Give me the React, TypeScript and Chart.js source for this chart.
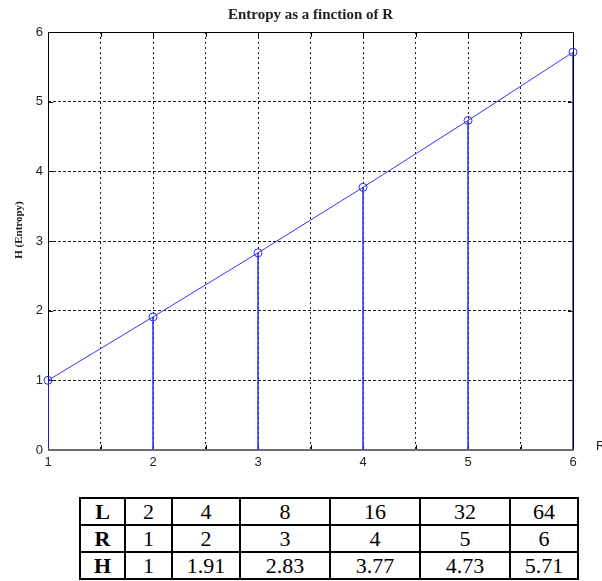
import React, { useEffect, useRef } from 'react';
import { Chart, registerables } from 'chart.js';

Chart.register(...registerables);

// Source values: alphabet size L, bits R = log2(L), measured entropy H
const lValues = [2, 4, 8, 16, 32, 64];
const rValues = [1, 2, 3, 4, 5, 6];
const hValues = [1, 1.91, 2.83, 3.77, 4.73, 5.71];

// Axis ticks
const xTickLabels = [1, 2, 3, 4, 5, 6];
const yTickLabels = [0, 1, 2, 3, 4, 5, 6];

const chartTitle = 'Entropy as a finction of R';
const yAxisTitle = 'H (Entropy)';
const xAxisTitle = 'R';

const columnWidths = [45, 47, 68, 90, 90, 90, 68];

const points = rValues.map((r, i) => ({ x: r, y: hValues[i] }));

// Draws the plot frame, inward tick marks and the title/axis captions.
const frameAndCaptions = {
  id: 'frameAndCaptions',
  beforeDatasetsDraw(chart: any) {
    const { ctx, chartArea: a, scales } = chart;
    ctx.save();
    ctx.strokeStyle = '#000';
    ctx.lineWidth = 1;
    ctx.beginPath();
    ctx.moveTo(a.left + 0.5, a.bottom);
    ctx.lineTo(a.left + 0.5, a.top + 0.5);
    ctx.lineTo(a.right + 0.5, a.top + 0.5);
    ctx.lineTo(a.right + 0.5, a.bottom);
    ctx.stroke();
    // inward tick marks
    ctx.beginPath();
    scales.x.ticks.forEach((t: any) => {
      const px = Math.round(scales.x.getPixelForValue(t.value)) + 0.5;
      ctx.moveTo(px, a.bottom);
      ctx.lineTo(px, a.bottom - 5);
      ctx.moveTo(px, a.top);
      ctx.lineTo(px, a.top + 5);
    });
    scales.y.ticks.forEach((t: any) => {
      const py = Math.round(scales.y.getPixelForValue(t.value)) + 0.5;
      ctx.moveTo(a.left, py);
      ctx.lineTo(a.left + 5, py);
      ctx.moveTo(a.right, py);
      ctx.lineTo(a.right - 5, py);
    });
    ctx.stroke();
    ctx.strokeStyle = '#6e6e6e';
    ctx.lineWidth = 2;
    ctx.beginPath();
    ctx.moveTo(a.left, a.bottom);
    ctx.lineTo(a.right + 1, a.bottom);
    ctx.stroke();
    ctx.restore();
  },
  afterDraw(chart: any) {
    const { ctx, chartArea: a } = chart;
    ctx.save();
    ctx.fillStyle = '#222';
    ctx.font = 'bold 15px "Liberation Serif"';
    ctx.textAlign = 'center';
    ctx.textBaseline = 'middle';
    ctx.fillText(chartTitle, (a.left + a.right) / 2, 15);

    ctx.font = 'bold 11px "Liberation Serif"';
    ctx.save();
    ctx.translate(19, 230);
    ctx.rotate(-Math.PI / 2);
    ctx.fillText(yAxisTitle, 0, 0);
    ctx.restore();

    ctx.font = '13px "Liberation Sans"';
    ctx.textAlign = 'left';
    ctx.fillText(xAxisTitle, a.right + 23, a.bottom - 4);
    ctx.restore();
  },
};

function EntropyChart() {
  const canvasRef = useRef<HTMLCanvasElement | null>(null);

  useEffect(() => {
    const canvas = canvasRef.current;
    if (!canvas) return;
    const tickFont = { family: '"Liberation Sans"', size: 13 };
    const chart = new Chart(canvas, {
      type: 'line',
      data: {
        datasets: [
          {
            type: 'line',
            data: points,
            borderColor: '#3535ff',
            borderWidth: 1,
            pointRadius: 4,
            pointHoverRadius: 4,
            pointBorderColor: '#2a2aff',
            pointBorderWidth: 1,
            pointBackgroundColor: 'rgba(0,0,0,0)',
            tension: 0,
            clip: false,
          } as any,
          {
            type: 'bar',
            data: points,
            backgroundColor: '#2a2aff',
            borderWidth: 0,
            barThickness: 1.5,
            inflateAmount: 0,
          } as any,
        ],
      },
      options: {
        responsive: false,
        animation: false,
        events: [],
        layout: { padding: { top: 32, right: 29, left: 0, bottom: 0 } },
        plugins: {
          legend: { display: false },
          tooltip: { enabled: false },
          title: { display: false },
        },
        scales: {
          x: {
            type: 'linear',
            min: 1,
            max: 6,
            offset: false,
            ticks: {
              stepSize: 0.5,
              autoSkip: false,
              maxRotation: 0,
              padding: 5,
              color: '#222',
              font: tickFont,
              callback: (v: any) => (xTickLabels.includes(Number(v)) ? String(v) : ''),
            },
            grid: { color: '#1a1a1a', lineWidth: 1, drawTicks: false, offset: false },
            border: { display: false, dash: [2, 3] },
            afterFit: (s: any) => {
              s.height = 30;
            },
          },
          y: {
            type: 'linear',
            min: 0,
            max: 6,
            ticks: {
              stepSize: 1,
              padding: 5,
              color: '#222',
              font: tickFont,
              callback: (v: any) => (yTickLabels.includes(Number(v)) ? String(v) : ''),
            },
            grid: { color: '#1a1a1a', lineWidth: 1, drawTicks: false },
            border: { display: false, dash: [3, 2] },
            afterFit: (s: any) => {
              s.width = 48;
            },
          },
        },
      } as any,
      plugins: [frameAndCaptions],
    });
    return () => chart.destroy();
  }, []);

  return <canvas ref={canvasRef} width={602} height={480} style={{ display: 'block' }} />;
}

function ValuesTable() {
  const rows: [string, (string | number)[]][] = [
    ['L', lValues],
    ['R', rValues],
    ['H', hValues],
  ];
  const cell: React.CSSProperties = {
    border: '2px solid #000',
    padding: 0,
    height: 25,
    lineHeight: '25px',
    textAlign: 'center',
  };
  return (
    <table
      style={{
        position: 'absolute',
        left: 79,
        top: 497,
        borderCollapse: 'collapse',
        tableLayout: 'fixed',
        width: 500,
        fontFamily: '"Liberation Serif", serif',
        fontSize: 22,
        color: '#000',
      }}
    >
      <colgroup>
        {columnWidths.map((w, i) => (
          <col key={i} style={{ width: w }} />
        ))}
      </colgroup>
      <tbody>
        {rows.map(([name, vals]) => (
          <tr key={name}>
            <td style={{ ...cell, fontWeight: 'bold' }}>{name}</td>
            {vals.map((v, i) => (
              <td key={i} style={cell}>
                {String(v)}
              </td>
            ))}
          </tr>
        ))}
      </tbody>
    </table>
  );
}

export default function App() {
  return (
    <div style={{ position: 'absolute', left: 0, top: 0, width: 602, height: 581, background: '#fff' }}>
      <EntropyChart />
      <ValuesTable />
    </div>
  );
}
